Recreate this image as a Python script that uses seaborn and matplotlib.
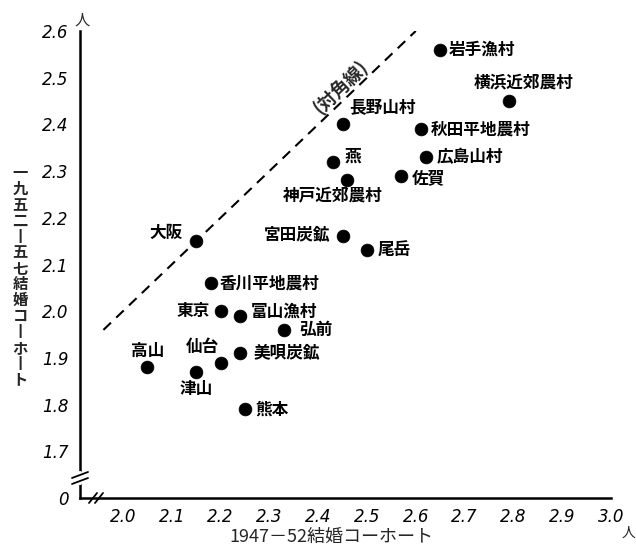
import matplotlib
matplotlib.use("Agg")
import matplotlib.pyplot as plt
import seaborn as sns
import pandas as pd

# ---- data ----
places = ["岩手漁村", "横浜近郊農村", "長野山村", "秋田平地農村", "燕", "広島山村",
          "佐賀", "神戸近郊農村", "大阪", "宮田炭鉱", "尾岳", "香川平地農村",
          "東京", "富山漁村", "弘前", "美唄炭鉱", "仙台", "高山", "津山", "熊本"]
cohort_1947_52 = [2.65, 2.79, 2.45, 2.61, 2.43, 2.62,
                  2.57, 2.46, 2.15, 2.45, 2.50, 2.18,
                  2.20, 2.24, 2.33, 2.24, 2.20, 2.05, 2.15, 2.25]
cohort_1952_57 = [2.56, 2.45, 2.40, 2.39, 2.32, 2.33,
                  2.29, 2.28, 2.15, 2.16, 2.13, 2.06,
                  2.00, 1.99, 1.96, 1.91, 1.89, 1.88, 1.87, 1.79]
x_ticks = [2.0, 2.1, 2.2, 2.3, 2.4, 2.5, 2.6, 2.7, 2.8, 2.9, 3.0]
x_tick_labels = ["2.0", "2.1", "2.2", "2.3", "2.4", "2.5", "2.6", "2.7", "2.8", "2.9", "3.0"]
y_ticks = [1.6, 1.7, 1.8, 1.9, 2.0, 2.1, 2.2, 2.3, 2.4, 2.5, 2.6]
y_tick_labels = ["0", "1.7", "1.8", "1.9", "2.0", "2.1", "2.2", "2.3", "2.4", "2.5", "2.6"]
diag = [1.96, 2.60]
diag_label = "(対角線)"
xlabel = "1947－52結婚コーホート"
ylabel = "一九五二丨五七結婚コ丨ホ丨ト"

# ---- label placement (pixel offsets, alignment) ----
label_layout = {
    "岩手漁村": (9, 0, "left"), "横浜近郊農村": (15, 19, "center"),
    "長野山村": (7, 17, "left"), "秋田平地農村": (10, 0, "left"),
    "燕": (12, 5, "left"), "広島山村": (11, 0, "left"),
    "佐賀": (11, -2, "left"), "神戸近郊農村": (-15, -16, "center"),
    "大阪": (-14, 8, "right"), "宮田炭鉱": (-12, 2, "right"),
    "尾岳": (11, 0, "left"), "香川平地農村": (9, 0, "left"),
    "東京": (-11, 0, "right"), "富山漁村": (11, 4, "left"),
    "弘前": (15, 0, "left"), "美唄炭鉱": (13, 0, "left"),
    "仙台": (-18, 16, "center"), "高山": (0, 16, "center"),
    "津山": (0, -17, "center"), "熊本": (10, 0, "left"),
}

df = pd.DataFrame({"place": places, "x": cohort_1947_52, "y": cohort_1952_57})

sns.set_theme(style="white")
plt.rcParams["font.family"] = ["DejaVu Sans", "Noto Sans CJK JP"]
CJK = ["Noto Sans CJK JP", "DejaVu Sans"]

W, H = 636, 550
fig = plt.figure(figsize=(W / 100, H / 100), dpi=100)
ax = fig.add_axes([80 / W, 52 / H, 531 / W, 467 / H])

ax.plot(diag, diag, color="black", lw=1.5, ls=(0, (5, 3.5)))
sns.scatterplot(data=df, x="x", y="y", color="black", s=85, edgecolor="black",
                linewidth=0.5, ax=ax, legend=False, clip_on=False, zorder=3)

for p, xv, yv in zip(places, cohort_1947_52, cohort_1952_57):
    dx, dy, ha = label_layout[p]
    ax.annotate(p, (xv, yv), xytext=(dx, dy), textcoords="offset pixels",
                ha=ha, va="center", fontsize=12, fontweight="bold",
                family=CJK, color="black")

ax.text(2.445, 2.482, diag_label, rotation=44, rotation_mode="anchor",
        ha="center", va="center", fontsize=13, fontweight="bold", family=CJK)

ax.set_xlim(1.912, 3.0)
ax.set_ylim(1.60, 2.60)
ax.set_xticks(x_ticks)
ax.set_xticklabels(x_tick_labels, style="italic", fontsize=12)
ax.set_yticks(y_ticks)
ax.set_yticklabels(y_tick_labels, style="italic", fontsize=12)
ax.tick_params(axis="x", direction="in", length=6, width=1.3, pad=7, colors="black")
ax.tick_params(axis="y", direction="in", length=9, width=1.3, pad=8, colors="black")
ax.set_xlabel("")
ax.set_ylabel("")
for s in ["top", "right"]:
    ax.spines[s].set_visible(False)
for s in ["left", "bottom"]:
    ax.spines[s].set_linewidth(1.8)
    ax.spines[s].set_color("black")

# axis break marks
aw, ah = 531.0, 467.0
yb = 20 / ah
ax.plot([0, 0], [yb - 5 / ah, yb + 5 / ah], transform=ax.transAxes, color="white",
        lw=3, clip_on=False, zorder=4)
for off in (-3, 3):
    ax.plot([-8 / aw, 8 / aw], [yb + (off - 3) / ah, yb + (off + 3) / ah],
            transform=ax.transAxes, color="black", lw=1.3, clip_on=False, zorder=5)
xb = 16 / aw
for off in (-3, 3):
    ax.plot([xb + (off - 4) / aw, xb + (off + 4) / aw], [-5 / ah, 5 / ah],
            transform=ax.transAxes, color="black", lw=1.3, clip_on=False, zorder=5)

# unit marks
fig.text(82 / W, 1 - 20 / H, "人", family=CJK, fontsize=11, ha="center", va="center")
fig.text(629 / W, 1 - 533 / H, "人", family=CJK, fontsize=10, ha="center", va="center")

# axis titles
fig.text(331 / W, 1 - 537 / H, xlabel, family=CJK, fontsize=13, ha="center", va="center")
for i, ch in enumerate(ylabel):
    fig.text(20 / W, 1 - (173 + i * 15.9) / H, ch, family=CJK, fontsize=11,
             fontweight="bold", ha="center", va="center")

fig.savefig("out.png", dpi=100, facecolor="white")
